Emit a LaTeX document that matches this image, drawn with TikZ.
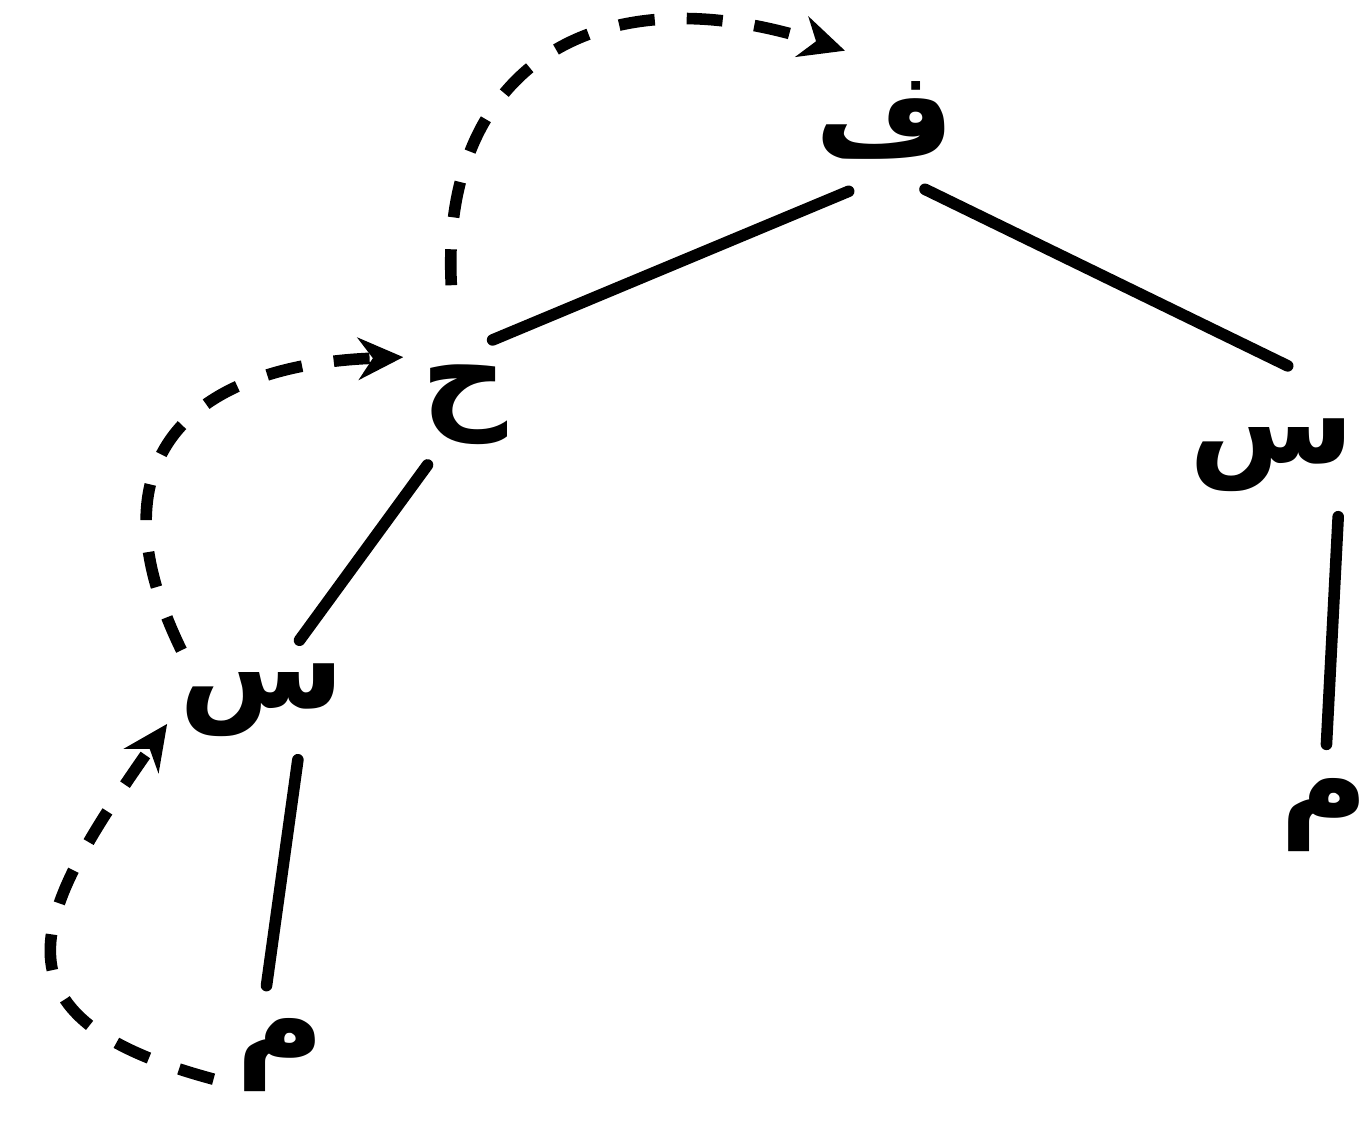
\documentclass[tikz,border=0pt]{standalone}
\usepackage{fontspec}
\newfontfamily\arabicfont[Script=Arabic]{DejaVu Sans}
\TeXXeTstate=1
\usetikzlibrary{arrows.meta}
\begin{document}
\begin{tikzpicture}[
  letter/.style={circle, minimum size=1.4cm, inner sep=0pt,
    font=\arabicfont\bfseries\fontsize{34}{40}\selectfont},
  edge/.style={line width=3.3pt, line cap=round},
  back/.style={line width=3.3pt, dash pattern=on 0.36cm off 0.32cm,
    -{Stealth[length=0.45cm,width=0.42cm]}}
]
\useasboundingbox (0,0) rectangle (13.67,-11.28);
\node[letter] (f)  at (8.85,-1.20) {\beginR ف\endR};
\node[letter] (h)  at (4.65,-4.05) {\beginR ح\endR};
\node[letter] (s1) at (2.62,-7.00) {\beginR س\endR};
\node[letter] (m1) at (2.80,-10.55) {\beginR م\endR};
\node[letter] (s2) at (12.72,-4.55) {\beginR س\endR};
\node[letter] (m2) at (13.24,-8.15) {\beginR م\endR};

\draw[edge] (f.243) -- (h.67);
\draw[edge] (f.300) -- (s2.80);
\draw[edge, shorten >=-0.2cm] (h.238) -- (s1.57);
\draw[edge, shorten <=-0.25cm] (s1.291) -- (m1.101);
\draw[edge] (s2.317) -- (m2.88);

\draw[back, shorten <=0.5cm] (h.99) to[out=93, in=162, looseness=1.4] (f.120);
\draw[back, shorten <=0.05cm, shorten >=0.1cm] (s1.150) to[out=116, in=182, looseness=1.5] (h.137);
\draw[back, shorten >=0.1cm] (m1.200) to[out=165, in=235, looseness=1.7] (s1.190);
\end{tikzpicture}
\end{document}
